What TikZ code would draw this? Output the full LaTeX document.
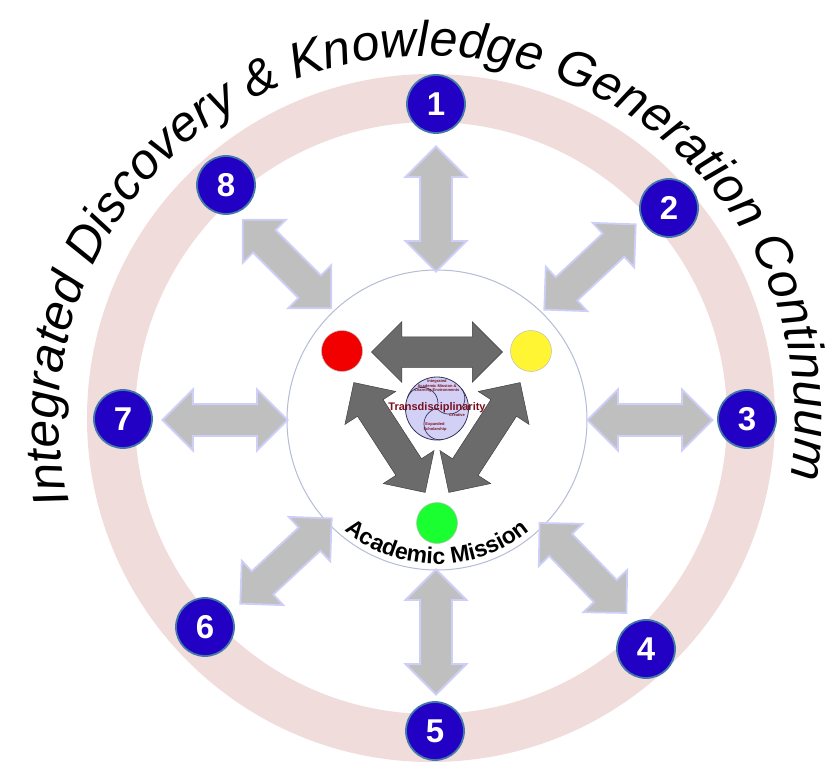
\documentclass[tikz,border=0pt]{standalone}
\usepackage{fontspec}
\setmainfont{Liberation Sans}
\usetikzlibrary{shapes.arrows}
\usetikzlibrary{decorations.text}
\definecolor{ringpink}{HTML}{F1DCDC}
\definecolor{numblue}{HTML}{2200C4}
\definecolor{numedge}{HTML}{4379A8}
\definecolor{armgray}{HTML}{BFBFBF}
\definecolor{armedge}{HTML}{CDCFF8}
\definecolor{hubedge}{HTML}{B4BCD8}
\definecolor{darkarm}{HTML}{6B6B6B}
\definecolor{swirlfill}{HTML}{D2D0F4}
\definecolor{swirledge}{HTML}{34345A}
\definecolor{swirltext}{HTML}{7A1020}
\tikzset{
	numnode/.style={circle,draw=numedge,line width=1.8pt,fill=numblue,text=white,minimum size=58pt,inner sep=0pt,font=\bfseries\fontsize{33}{33}\selectfont},
	armnode/.style={shape=double arrow,draw=armedge,line width=1.8pt,fill=armgray,minimum height=125pt,minimum width=59pt,double arrow head extend=14.5pt,inner xsep=0pt,inner ysep=15pt},
	darknode/.style={shape=double arrow,draw=black!75,line width=0.5pt,fill=darkarm,minimum height=131pt,minimum width=60pt,double arrow head extend=15pt,inner xsep=0pt,inner ysep=15pt},
	dotnode/.style={circle,draw=black!25,line width=0.5pt,minimum size=41pt,inner sep=0pt},
	tinytext/.style={text=swirltext,align=center,font=\bfseries\fontsize{4}{4.2}\selectfont,inner sep=0pt}
}
\begin{document}
\begin{tikzpicture}[x=1pt,y=1pt]
	\useasboundingbox (-431,-345) rectangle (401,418);
	\coordinate (C) at (0,0);
	\draw[ringpink,line width=48pt] (C) circle (320);

	\path[decorate,decoration={text along path,text align=fit to path,text={|\itshape\fontsize{50}{50}\selectfont|Integrated Discovery {\&} Knowledge Generation Continuum}}] (-4,0) ++(193.5:368 and 362) arc[start angle=193.5,end angle=-9.7,x radius=368,y radius=362];

	\node[circle,draw=hubedge,line width=1pt,fill=white,minimum size=300pt,inner sep=0pt] (hub) at (6,-2) {};
	\path[decorate,decoration={text along path,text align=center,text={|\bfseries\fontsize{23}{23}\selectfont|Academic Mission}}] (6,-2) ++(205:144) arc[start angle=205,end angle=335,radius=144];

	\node[armnode,rotate=90] (arm1) at (5,209) {};
	\node[armnode,rotate=43] (arm2) at (159,151) {};
	\node[armnode] (arm3) at (219,-2) {};
	\node[armnode,rotate=-46] (arm4) at (152,-150) {};
	\node[armnode,rotate=90] (arm5) at (5,-214) {};
	\node[armnode,rotate=43] (arm6) at (-145,-143) {};
	\node[armnode] (arm7) at (-206,-2) {};
	\node[armnode,rotate=-45] (arm8) at (-144,154) {};

	\node[numnode] (one) at (5,314) {1};
	\node[numnode] (two) at (238,210) {2};
	\node[numnode] (three) at (316,-1) {3};
	\node[numnode] (four) at (215,-231) {4};
	\node[numnode] (five) at (4,-313) {5};
	\node[numnode] (six) at (-226,-209) {6};
	\node[numnode] (seven) at (-308,-1) {7};
	\node[numnode] (eight) at (-205,233) {8};

	\node[dotnode,fill=red!95!black] (reddot) at (-89,67) {};
	\node[dotnode,fill=yellow!80!white] (yellowdot) at (100,67) {};
	\node[dotnode,fill=green!90!cyan!90!white] (greendot) at (6,-105) {};

	\node[darknode] (topdark) at (6,66) {};
	\node[darknode,rotate=-57] (leftdark) at (-41.5,-19.5) {};
	\node[darknode,rotate=57] (rightdark) at (53.5,-19.5) {};

	\node[circle,draw=swirledge,line width=0.8pt,fill=swirlfill,minimum size=63pt,inner sep=0pt] (swirl) at (6,9.5) {};
	\draw[swirledge,line width=0.7pt] (swirl.center) arc[start angle=340,delta angle=180,radius=15.75];
	\draw[swirledge,line width=0.7pt] (swirl.center) arc[start angle=220,delta angle=180,radius=15.75];
	\draw[swirledge,line width=0.7pt] (swirl.center) arc[start angle=100,delta angle=180,radius=15.75];

	\node[tinytext] (intext) at (6,32) {Integrated\\Academic Mission \&\\Learning Environments};
	\node[tinytext] (extext) at (4,-9) {Expanded\\Scholarship};
	\node[tinytext] (crtext) at (26,3) {Creative};
	\node[text=swirltext,font=\bfseries\fontsize{11}{11}\selectfont,inner sep=0pt] (transtext) at (6,10) {Transdisciplinarity};
\end{tikzpicture}
\end{document}
